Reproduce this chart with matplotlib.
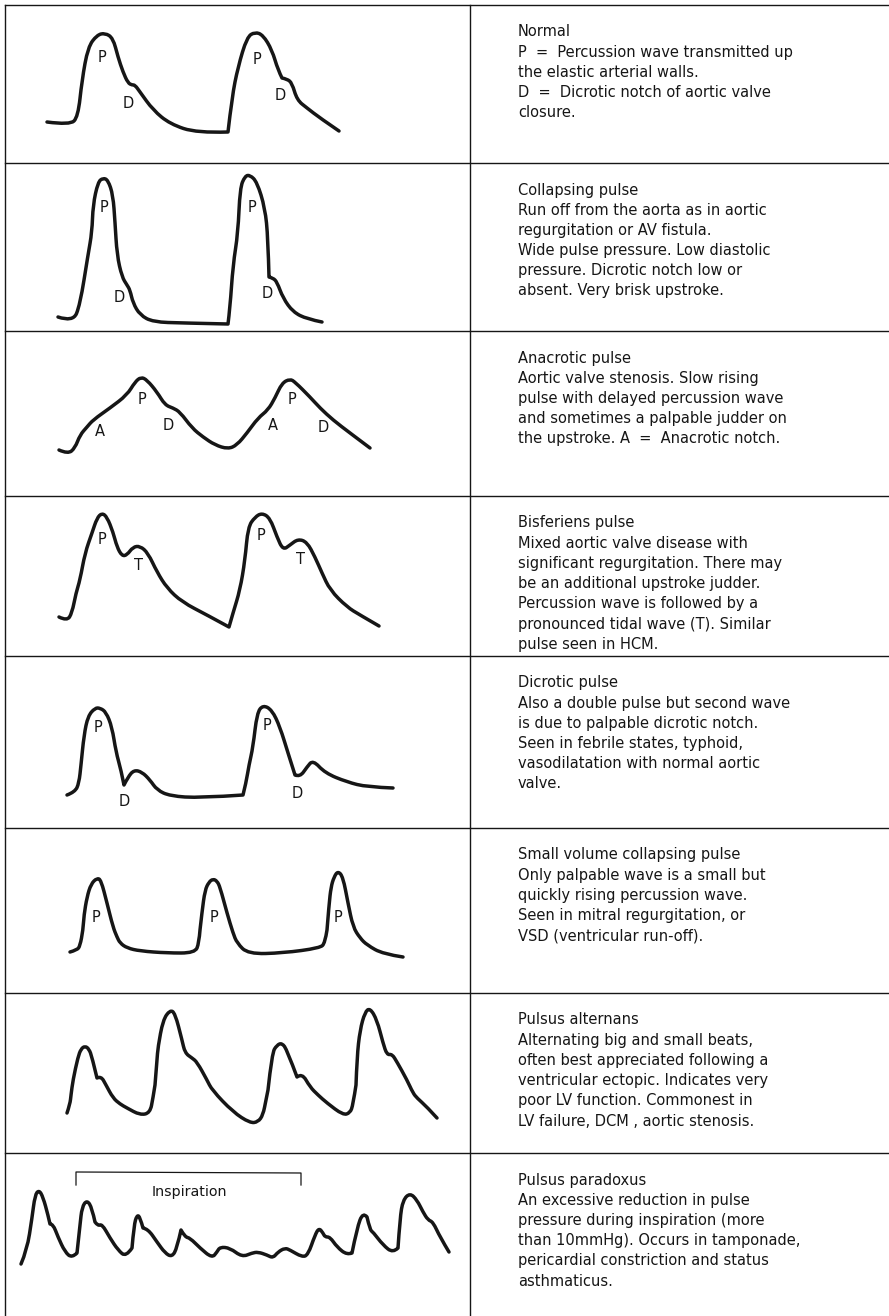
import matplotlib.pyplot as plt
from matplotlib.path import Path
from matplotlib.patches import PathPatch

W, H = 889, 1316

# table grid (pixel coords)
row_tops = [5, 163, 331, 496, 656, 828, 993, 1153]
left_x = 5
col_x = 470
text_x = 518

descriptions = [
    ["Normal",
     "P  =  Percussion wave transmitted up",
     "the elastic arterial walls.",
     "D  =  Dicrotic notch of aortic valve",
     "closure."],
    ["Collapsing pulse",
     "Run off from the aorta as in aortic",
     "regurgitation or AV fistula.",
     "Wide pulse pressure. Low diastolic",
     "pressure. Dicrotic notch low or",
     "absent. Very brisk upstroke."],
    ["Anacrotic pulse",
     "Aortic valve stenosis. Slow rising",
     "pulse with delayed percussion wave",
     "and sometimes a palpable judder on",
     "the upstroke. A  =  Anacrotic notch."],
    ["Bisferiens pulse",
     "Mixed aortic valve disease with",
     "significant regurgitation. There may",
     "be an additional upstroke judder.",
     "Percussion wave is followed by a",
     "pronounced tidal wave (T). Similar",
     "pulse seen in HCM."],
    ["Dicrotic pulse",
     "Also a double pulse but second wave",
     "is due to palpable dicrotic notch.",
     "Seen in febrile states, typhoid,",
     "vasodilatation with normal aortic",
     "valve."],
    ["Small volume collapsing pulse",
     "Only palpable wave is a small but",
     "quickly rising percussion wave.",
     "Seen in mitral regurgitation, or",
     "VSD (ventricular run-off)."],
    ["Pulsus alternans",
     "Alternating big and small beats,",
     "often best appreciated following a",
     "ventricular ectopic. Indicates very",
     "poor LV function. Commonest in",
     "LV failure, DCM , aortic stenosis."],
    ["Pulsus paradoxus",
     "An excessive reduction in pulse",
     "pressure during inspiration (more",
     "than 10mmHg). Occurs in tamponade,",
     "pericardial constriction and status",
     "asthmaticus."],
]

# traced waveforms
normal_x = [47, 70, 78, 82, 88, 97, 105, 113, 118, 123, 128, 132, 135, 140, 153, 170, 197, 228,
            232, 238, 247, 255, 263, 272, 278, 282, 287, 292, 297, 307, 320, 339]
normal_y = [122, 125, 117, 80, 47, 35, 33, 38, 57, 72, 83, 85, 85, 92, 110, 124, 133, 132,
            97, 67, 37, 32, 35, 50, 70, 78, 79, 83, 100, 108, 118, 131]

collapsing_x = [58, 73, 80, 88, 92, 93, 98, 103, 108, 113, 115, 117, 122, 127, 130, 133, 140, 153, 183, 228,
                230, 233, 238, 240, 245, 250, 257, 265, 268, 269, 273, 277, 283, 293, 307, 322]
collapsing_y = [317, 322, 305, 255, 232, 205, 182, 178, 180, 195, 222, 255, 277, 285, 290, 303, 315, 322, 323, 324,
                308, 265, 233, 188, 176, 175, 182, 208, 238, 277, 278, 282, 298, 312, 319, 322]

anacrotic_x = [59, 68, 75, 80, 87, 93, 110, 127, 135, 141, 147, 157, 165, 173, 180, 192, 203, 215, 228,
               237, 247, 258, 268, 275, 282, 290, 295, 310, 320, 333, 350, 370]
anacrotic_y = [450, 454, 448, 435, 427, 420, 408, 395, 382, 377, 380, 392, 405, 408, 412, 428, 437, 445, 449,
               445, 433, 418, 410, 398, 383, 379, 382, 397, 408, 420, 433, 448]

bisferiens_x = [59, 67, 72, 76, 80, 85, 92, 97, 102, 107, 113, 117, 122, 127, 133, 140, 148, 157, 167, 182, 207, 229,
                233, 240, 245, 248, 255, 262, 270, 277, 283, 290, 298, 307, 315, 322, 330, 347, 360, 379]
bisferiens_y = [617, 621, 613, 593, 580, 553, 533, 518, 513, 517, 532, 547, 556, 555, 547, 546, 553, 572, 588, 602, 615, 627,
                613, 590, 560, 527, 517, 513, 518, 537, 550, 545, 539, 542, 557, 573, 590, 607, 615, 626]

dicrotic_x = [67, 75, 79, 81, 84, 88, 95, 100, 106, 112, 116, 121, 124, 128, 134, 142, 150, 157, 170, 200, 243,
              246, 249, 253, 257, 263, 272, 280, 288, 295, 300, 307, 313, 325, 347, 367, 393]
dicrotic_y = [795, 792, 783, 765, 735, 716, 708, 708, 712, 727, 752, 770, 785, 777, 770, 772, 780, 790, 796, 798, 795,
              783, 765, 747, 713, 705, 710, 727, 753, 775, 777, 767, 760, 773, 782, 787, 788]

small_x = [70, 77, 80, 83, 84, 87, 91, 97, 101, 107, 113, 117, 120, 127, 140, 167, 195,
           199, 200, 202, 205, 209, 213, 217, 220, 227, 233, 237, 248, 283, 320,
           325, 327, 329, 331, 334, 338, 343, 348, 353, 360, 367, 383, 403]
small_y = [952, 950, 946, 930, 915, 897, 884, 878, 880, 903, 927, 937, 943, 948, 951, 953, 953,
           943, 930, 912, 890, 882, 879, 881, 887, 913, 933, 943, 954, 953, 948,
           943, 930, 905, 887, 877, 871, 877, 903, 927, 938, 945, 954, 957]

alternans_x = [67, 70, 71, 73, 78, 81, 85, 89, 92, 97, 101, 106, 113, 120, 127, 140, 150, 153, 155,
               157, 158, 163, 170, 175, 182, 185, 192, 197, 207, 212, 233, 250, 258, 263, 266, 268,
               272, 277, 282, 287, 297, 302, 310, 318, 327, 343, 350, 353, 356,
               357, 360, 365, 370, 377, 383, 387, 392, 397, 407, 413, 417, 427, 437]
alternans_y = [1113, 1104, 1095, 1080, 1057, 1049, 1046, 1049, 1057, 1078, 1076, 1085, 1098, 1104, 1108, 1115, 1113, 1098, 1085,
               1060, 1047, 1020, 1010, 1013, 1040, 1053, 1058, 1062, 1080, 1090, 1112, 1123, 1122, 1115, 1100, 1090,
               1053, 1045, 1043, 1050, 1077, 1073, 1087, 1095, 1103, 1115, 1113, 1105, 1085,
               1057, 1030, 1012, 1008, 1020, 1043, 1055, 1054, 1062, 1080, 1093, 1098, 1107, 1118]

paradoxus_x = [21, 27, 32, 35, 39, 43, 48, 50, 53, 58, 65, 72, 77, 80, 82, 87, 92, 95, 98, 102, 110, 118, 126,
               132, 134, 137, 140, 143, 148, 157, 165, 172, 177, 181, 185, 190, 200, 212, 217, 220, 230, 242,
               252, 258, 267, 273, 278, 285, 290, 302, 308, 315, 319, 323, 325, 330, 337, 347, 352, 357, 363,
               367, 370, 373, 383, 393, 398, 400, 403, 410, 417, 423, 428, 433, 440, 449]
paradoxus_y = [1264, 1250, 1218, 1195, 1190, 1197, 1215, 1224, 1224, 1237, 1252, 1258, 1253, 1225, 1207, 1200, 1208, 1222, 1226, 1224, 1238, 1250, 1257,
               1248, 1225, 1215, 1217, 1228, 1229, 1242, 1253, 1257, 1248, 1230, 1237, 1238, 1248, 1258, 1252, 1247, 1248, 1257,
               1253, 1252, 1255, 1258, 1252, 1248, 1250, 1257, 1255, 1235, 1228, 1233, 1237, 1237, 1247, 1255, 1253, 1228, 1212,
               1217, 1230, 1232, 1245, 1253, 1248, 1218, 1200, 1193, 1200, 1212, 1220, 1222, 1237, 1252]

# x positions where the drawn trace has a sharp corner instead of a smooth bend
normal_corners = [228, 282]
collapsing_corners = [228, 269]
anacrotic_corners = []
bisferiens_corners = [229]
dicrotic_corners = [124, 243, 295]
small_corners = [200, 327]
alternans_corners = [155, 268, 356, 97, 297]
paradoxus_corners = [50, 77, 95, 132, 143, 181, 352, 367, 398]

waves = [(normal_x, normal_y, normal_corners), (collapsing_x, collapsing_y, collapsing_corners),
         (anacrotic_x, anacrotic_y, anacrotic_corners), (bisferiens_x, bisferiens_y, bisferiens_corners),
         (dicrotic_x, dicrotic_y, dicrotic_corners), (small_x, small_y, small_corners),
         (alternans_x, alternans_y, alternans_corners), (paradoxus_x, paradoxus_y, paradoxus_corners)]

# wave annotations: letter, x, y
wave_labels = [
    ("P", 102, 58), ("D", 128, 103), ("P", 257, 59), ("D", 280, 96),
    ("P", 104, 207), ("D", 119, 298), ("P", 252, 207), ("D", 267, 294),
    ("A", 100, 432), ("P", 142, 399), ("D", 168, 426), ("A", 273, 426), ("P", 292, 400), ("D", 323, 427),
    ("P", 102, 540), ("T", 138, 566), ("P", 261, 536), ("T", 301, 560),
    ("P", 98, 728), ("D", 124, 802), ("P", 267, 726), ("D", 297, 794),
    ("P", 96, 917), ("P", 214, 917), ("P", 338, 917),
]

bracket_x = [76, 76, 301, 301]
bracket_y = [1185, 1172, 1173, 1185]


def smooth_path(xs, ys, corners):
    # quadratic bezier through midpoints; traced points are control points,
    # listed corners are hit exactly
    pts = list(zip(xs, ys))
    verts = [pts[0]]
    codes = [Path.MOVETO]
    for i in range(1, len(pts) - 1):
        if xs[i] in corners:
            verts.append(pts[i])
            codes.append(Path.LINETO)
            continue
        nxt = pts[i + 1]
        if xs[i + 1] in corners or i + 1 == len(pts) - 1:
            end = nxt
        else:
            end = ((pts[i][0] + nxt[0]) / 2, (pts[i][1] + nxt[1]) / 2)
        verts += [pts[i], end]
        codes += [Path.CURVE3, Path.CURVE3]
    if verts[-1] != pts[-1]:
        verts.append(pts[-1])
        codes.append(Path.LINETO)
    return Path(verts, codes)


fig = plt.figure(figsize=(W / 100, H / 100), dpi=100)
ax = fig.add_axes([0, 0, 1, 1])
ax.set_xlim(0, W)
ax.set_ylim(H, 0)
ax.axis("off")

ink = "#161616"
font = "DejaVu Sans"

# grid lines
for y in row_tops:
    ax.plot([left_x, W], [y, y], color=ink, lw=1.0)
ax.plot([left_x, left_x], [row_tops[0], H], color=ink, lw=1.0)
ax.plot([col_x, col_x], [row_tops[0], H], color=ink, lw=1.0)

for xs, ys, corners in waves:
    ax.add_patch(PathPatch(smooth_path(xs, ys, corners), fill=False, edgecolor=ink, lw=2.5,
                           joinstyle="round", capstyle="round"))

for letter, x, y in wave_labels:
    ax.text(x, y, letter, fontsize=10.5, family=font, color=ink, ha="center", va="center")

ax.plot(bracket_x, bracket_y, color=ink, lw=0.9)
ax.text(189, 1192, "Inspiration", fontsize=10.3, family=font, color=ink, ha="center", va="center")

line_gap = 20.2
for top, lines in zip(row_tops, descriptions):
    for i, line in enumerate(lines):
        ax.text(text_x, top + 27 + i * line_gap, line, fontsize=10.5, family=font,
                color=ink, ha="left", va="center")

fig.savefig("out.png", dpi=100, facecolor="white")
